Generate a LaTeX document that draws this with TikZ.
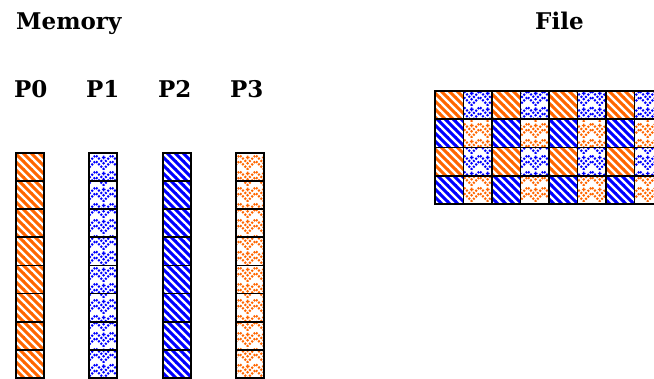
\documentclass[tikz,border=0pt]{standalone}
\usepackage{fontspec}
\setmainfont{DejaVu Serif}
\usetikzlibrary{patterns}

% Motifs : bandes larges et chevrons pointillés
\pgfdeclarepatternformonly{widestripes}{\pgfqpoint{-1pt}{-1pt}}{\pgfqpoint{9pt}{9pt}}{\pgfqpoint{8pt}{8pt}}{
  \pgfsetlinewidth{3pt}
  \pgfpathmoveto{\pgfqpoint{-1pt}{9pt}}
  \pgfpathlineto{\pgfqpoint{9pt}{-1pt}}
  \pgfusepath{stroke}
}
\pgfdeclarepatternformonly{chevrons}{\pgfqpoint{0pt}{0pt}}{\pgfqpoint{16pt}{16pt}}{\pgfqpoint{16pt}{16pt}}{
  \pgfsetlinewidth{2.2pt}
  \pgfsetdash{{2pt}{1.4pt}}{0pt}
  \pgfpathmoveto{\pgfqpoint{0pt}{15pt}}
  \pgfpathlineto{\pgfqpoint{8pt}{7pt}}
  \pgfpathlineto{\pgfqpoint{16pt}{15pt}}
  \pgfpathmoveto{\pgfqpoint{0pt}{9pt}}
  \pgfpathlineto{\pgfqpoint{8pt}{1pt}}
  \pgfpathlineto{\pgfqpoint{16pt}{9pt}}
  \pgfusepath{stroke}
  \pgfsetdash{}{0pt}
  \pgfsetlinewidth{1.5pt}
  \pgfpathmoveto{\pgfqpoint{6pt}{13pt}}
  \pgfpathlineto{\pgfqpoint{10pt}{13pt}}
  \pgfpathmoveto{\pgfqpoint{8pt}{11pt}}
  \pgfpathlineto{\pgfqpoint{8pt}{15pt}}
  \pgfusepath{stroke}
}

\tikzset{
  lbl/.style={anchor=base west, inner sep=0pt, font=\bfseries\fontsize{23}{26}\selectfont},
  cell/.style={draw=black, line width=1.8pt}
}

\begin{document}
\begin{tikzpicture}[x=1pt,y=-1pt]
  % Couleurs des processus
  \definecolor{procorange}{RGB}{255, 102, 0}
  \definecolor{procblue}{RGB}{0, 0, 255}

  \clip (0,0) rectangle (654,378);

  % Titres
  \node[lbl] (memory) at (16,29) {Memory};
  \node[lbl] (file) at (535,29) {File};

  % Processus
  \node[lbl] (p0) at (14,97) {P0};
  \node[lbl] (p1) at (86,97) {P1};
  \node[lbl] (p2) at (158,97) {P2};
  \node[lbl] (p3) at (230,97) {P3};

  % Blocs en mémoire (8 par processus)
  \foreach \x/\pat/\col in {16/widestripes/procorange, 89/chevrons/procblue, 163/widestripes/procblue, 236/chevrons/procorange}
    \foreach \i in {0,...,7}
      \draw[cell, pattern=\pat, pattern color=\col] (\x,{153+\i*28.1}) rectangle ++(28,28.1);

  % Blocs dans le fichier
  \foreach \r/\ca/\cb in {0/procorange/procblue, 1/procblue/procorange, 2/procorange/procblue, 3/procblue/procorange}
    \foreach \c in {0,2,4,6} {
      \draw[cell, pattern=widestripes, pattern color=\ca] ({435+\c*28.5},{91+\r*28.2}) rectangle ++(28.5,28.2);
      \draw[cell, pattern=chevrons, pattern color=\cb] ({435+(\c+1)*28.5},{91+\r*28.2}) rectangle ++(28.5,28.2);
    }
\end{tikzpicture}
\end{document}
